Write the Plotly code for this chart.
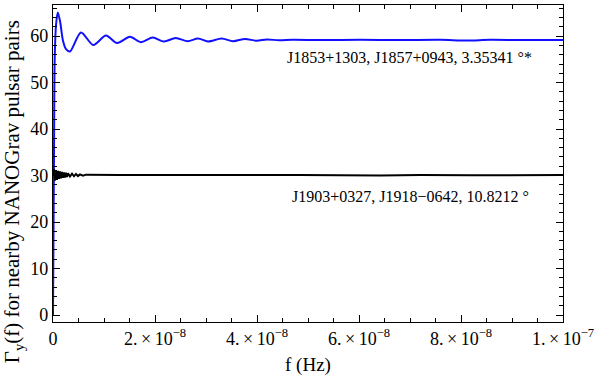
# Gamma_y(f) for two nearby NANOGrav pulsar pairs.

import plotly.graph_objects as go

# frequency in units of 1e-8 Hz, value of Gamma_y(f)
f_blue = [0.0, 0.02, 0.033, 0.06, 0.094, 0.137, 0.196, 0.255, 0.333, 0.549, 0.790, 1.039,
          1.255, 1.51, 1.72, 1.955, 2.176, 2.406, 2.641, 2.843, 3.039, 3.308, 3.529, 3.765,
          3.994, 4.19, 4.43, 4.69, 5.24, 6.02, 6.80, 7.59, 8.12, 8.57, 9.16, 10.0]
g_blue = [0.0, 35.0, 55.0, 62.5, 65.1, 63.3, 59.0, 57.2, 56.7, 60.8, 58.1, 60.15,
          58.5, 59.85, 58.7, 59.7, 58.85, 59.6, 58.9, 59.5, 58.85, 59.5, 58.9, 59.4,
          59.0, 59.3, 59.1, 59.2, 59.15, 59.2, 59.15, 59.2, 59.05, 59.2, 59.15, 59.15]

f_black = [0.0, 0.02, 0.039, 0.059, 0.078, 0.098, 0.118, 0.137, 0.157, 0.176, 0.196, 0.216,
           0.235, 0.255, 0.275, 0.294, 0.333, 0.373, 0.412, 0.451, 0.490, 0.529, 0.588,
           0.647, 1.31, 2.86, 4.04, 4.84, 6.41, 7.21, 8.20, 10.0]
g_black = [30.0, 31.4, 28.9, 31.2, 29.1, 31.0, 29.3, 30.9, 29.4, 30.8, 29.5, 30.7,
           29.6, 30.6, 29.7, 30.5, 29.8, 30.4, 29.85, 30.35, 29.9, 30.25, 30.0,
           30.2, 30.1, 30.15, 30.05, 30.1, 30.0, 30.1, 30.05, 30.1]

x_tickvals = [0, 2e-8, 4e-8, 6e-8, 8e-8, 1e-7]
x_ticktext = ["0", "2.\u2009\u00d7\u200910<sup>\u22128</sup>", "4.\u2009\u00d7\u200910<sup>\u22128</sup>",
              "6.\u2009\u00d7\u200910<sup>\u22128</sup>", "8.\u2009\u00d7\u200910<sup>\u22128</sup>",
              "1.\u2009\u00d7\u200910<sup>\u22127</sup>"]

label_blue = "J1853+1303, J1857+0943, 3.35341 \u00b0*"
label_black = "J1903+0327, J1918\u22120642, 10.8212 \u00b0"

serif = "Liberation Serif"

fig = go.Figure()
fig.add_trace(go.Scatter(x=[v * 1e-8 for v in f_blue], y=g_blue, mode="lines",
                         line=dict(color="#1010ff", width=2, shape="spline", smoothing=0.8)))
fig.add_trace(go.Scatter(x=[v * 1e-8 for v in f_black], y=g_black, mode="lines",
                         line=dict(color="black", width=2)))

# pair labels inside the frame
fig.add_annotation(x=4.55e-8, y=55.3, text=label_blue, showarrow=False,
                   xanchor="left", font=dict(family=serif, size=16, color="black"))
fig.add_annotation(x=4.65e-8, y=25.4, text=label_black, showarrow=False,
                   xanchor="left", font=dict(family=serif, size=16, color="black"))

# y title placed like Mathematica does (centred on the whole image, not the frame)
fig.add_annotation(xref="paper", yref="paper", x=-0.078, y=0.41, textangle=-90,
                   xanchor="center", yanchor="middle",
                   text="\u0393<sub>y</sub>(f) for nearby NANOGrav pulsar pairs",
                   showarrow=False, font=dict(family=serif, size=21, color="black"))

axis_common = dict(showgrid=False, zeroline=False, showline=True, linecolor="black",
                   linewidth=1.3, mirror="allticks", ticks="inside", ticklen=7,
                   tickwidth=1, tickcolor="black",
                   tickfont=dict(family=serif, size=18, color="black"))

fig.update_xaxes(range=[0, 1e-7], tickvals=x_tickvals, ticktext=x_ticktext,
                 title=dict(text="f (Hz)", font=dict(family=serif, size=19, color="black"),
                            standoff=10),
                 minor=dict(ticks="inside", ticklen=4, dtick=0.5e-8, tickcolor="black"),
                 **axis_common)
fig.update_yaxes(range=[-1.5, 66.7], tickvals=[0, 10, 20, 30, 40, 50, 60],
                 minor=dict(ticks="inside", ticklen=4, dtick=2, tickcolor="black"),
                 **axis_common)

fig.update_layout(width=600, height=376, showlegend=False,
                  plot_bgcolor="white", paper_bgcolor="white",
                  margin=dict(l=53, r=37, t=5, b=54, autoexpand=False),
                  font=dict(family=serif, color="black"))

# drop the page's default body margin so the figure sits at the window corner
fig.write_html("out.html", config={"displayModeBar": False},
               post_script="document.body.style.margin='0';")
